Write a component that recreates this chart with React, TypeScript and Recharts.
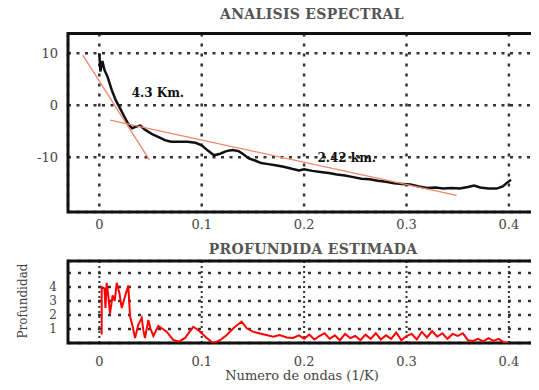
import React from 'react'
import {
  LineChart,
  Line,
  XAxis,
  YAxis,
  CartesianGrid,
  ReferenceArea,
  ReferenceLine,
  ReferenceDot,
} from 'recharts'

// espectro de potencia (ln) vs numero de ondas
const specX = [
  0.0, 0.001, 0.003, 0.005, 0.008, 0.012, 0.016, 0.02, 0.024, 0.028, 0.032, 0.036, 0.04, 0.044,
  0.048, 0.052, 0.058, 0.064, 0.07, 0.078, 0.086, 0.094, 0.1, 0.106, 0.112, 0.118, 0.124, 0.13,
  0.136, 0.14, 0.146, 0.152, 0.158, 0.165, 0.172, 0.18, 0.188, 0.195, 0.2, 0.208, 0.216, 0.224,
  0.232, 0.24, 0.248, 0.256, 0.264, 0.272, 0.28, 0.288, 0.296, 0.304, 0.312, 0.32, 0.328, 0.336,
  0.344, 0.352, 0.36, 0.366, 0.372, 0.38, 0.388, 0.394, 0.398, 0.402,
]
const specY = [
  10.0, 6.5, 8.5, 6.8, 5.5, 3.0, 1.0, -0.5, -2.0, -3.5, -4.4, -4.1, -3.9, -4.6, -5.1, -5.6, -6.1,
  -6.7, -7.0, -7.0, -7.0, -7.2, -7.7, -8.7, -9.6, -9.3, -8.8, -8.6, -8.8, -9.3, -10.2, -10.6,
  -11.1, -11.3, -11.5, -11.8, -12.2, -12.5, -12.3, -12.6, -12.8, -13.0, -13.3, -13.5, -13.8,
  -14.1, -14.2, -14.5, -14.7, -15.0, -15.1, -15.2, -15.6, -15.9, -15.8, -16.0, -15.9, -16.0,
  -15.7, -15.4, -15.8, -16.0, -16.0, -15.6, -14.9, -14.3,
]

// rectas de ajuste
const fitDeepX = [-0.0162, 0.0489]
const fitDeepY = [9.66, -10.5]
const fitShallowX = [0.0105, 0.349]
const fitShallowY = [-2.85, -17.3]

const noteText = ['4.3 Km.', '2.42 km.']
const noteX = [0.0316, 0.213]
const noteY = [2.35, -10.07]

// profundidad estimada
const depthX = [
  0.0023, 0.0023, 0.005, 0.006, 0.0072, 0.009, 0.0104, 0.013, 0.015, 0.017, 0.0195, 0.0219, 0.025,
  0.0283, 0.03, 0.0325, 0.0349, 0.038, 0.0414, 0.043, 0.0446, 0.0479, 0.05, 0.0528, 0.0576, 0.062,
  0.0658, 0.069, 0.0723, 0.078, 0.0837, 0.088, 0.0918, 0.095, 0.0983, 0.1049, 0.1113, 0.118,
  0.1244, 0.1309, 0.135, 0.139, 0.144, 0.15, 0.156, 0.163, 0.17, 0.176, 0.183, 0.189, 0.195, 0.2,
  0.205, 0.21, 0.215, 0.22, 0.225, 0.23, 0.235, 0.24, 0.245, 0.25, 0.255, 0.26, 0.265, 0.27,
  0.275, 0.28, 0.285, 0.29, 0.295, 0.3, 0.305, 0.31, 0.315, 0.32, 0.325, 0.33, 0.335, 0.34,
  0.345, 0.35, 0.355, 0.36, 0.365, 0.37, 0.375, 0.38, 0.385, 0.39, 0.395, 0.4,
]
const depthY = [
  0.6, 4.0, 3.9, 2.5, 4.3, 3.2, 2.1, 3.4, 3.0, 4.3, 3.6, 2.5, 3.3, 4.1, 1.9, 1.2, 0.36, 1.3, 1.8,
  0.9, 0.36, 1.64, 1.0, 0.5, 1.21, 1.0, 0.81, 0.5, 0.21, 0.1, 0.36, 0.8, 1.16, 1.0, 0.81, 0.36,
  0.0, 0.2, 0.57, 1.05, 1.3, 1.52, 1.05, 0.81, 0.7, 0.57, 0.45, 0.57, 0.4, 0.36, 0.55, 0.3, 0.6,
  0.25, 0.5, 0.7, 0.3, 0.55, 0.2, 0.65, 0.35, 0.5, 0.2, 0.6, 0.3, 0.7, 0.25, 0.55, 0.3, 0.75, 0.2,
  0.5, 0.65, 0.25, 0.8, 0.4, 0.85, 0.45, 0.7, 0.3, 0.65, 0.5, 0.7, 0.2, 0.15, 0.3, 0.1, 0.35,
  0.15, 0.3, 0.05, 0.0,
]

const xTicks = [0, 0.1, 0.2, 0.3, 0.4]
const xDomain: [number, number] = [-0.0306, 0.4421]
const topYTicks = [-10, 0, 10]
const topYDomain: [number, number] = [-20.5, 13.8]
const bottomYTicks = [1, 2, 3, 4, 5]
const bottomYDomain: [number, number] = [0, 5.86]

const serif = 'DejaVu Serif'
const tickStyle = { fill: '#444', fontSize: 13, fontFamily: serif }

const specData = specX.map((x, i) => ({ x, y: specY[i] }))
const depthData = depthX.map((x, i) => ({ x, y: depthY[i] }))

function Note({ cx, cy, text }: any) {
  return (
    <text x={cx} y={cy} dy="0.35em" fontFamily={serif} fontWeight="bold" fontSize={12} fill="#111">
      {text}
    </text>
  )
}

const titleStyle: React.CSSProperties = {
  position: 'absolute', width: 240, textAlign: 'center', fontFamily: serif, fontSize: 14,
  fontWeight: 'bold', color: '#555', letterSpacing: 0.3, whiteSpace: 'nowrap',
}

export default function App() {
  return (
    <div style={{ position: 'relative', width: 539, height: 390, margin: -8, overflow: 'hidden', background: '#fff' }}>
      <div style={{ ...titleStyle, left: 192, top: 6 }}>ANALISIS ESPECTRAL</div>
      <div style={{ position: 'absolute', left: 0, top: 0 }}>
        <LineChart width={560} height={240} data={specData} margin={{ top: 33.5, right: 8, bottom: 8, left: 8 }}>
          <CartesianGrid horizontal={false} stroke="#333" strokeWidth={2.5} strokeDasharray="3 7" />
          <CartesianGrid vertical={false} stroke="#333" strokeWidth={2.5} strokeDasharray="3 5.5" />
          <XAxis
            dataKey="x" type="number" domain={xDomain} ticks={xTicks} allowDataOverflow interval={0}
            axisLine={false} tickLine={false} tick={tickStyle} height={20}
          />
          <YAxis
            type="number" domain={topYDomain} ticks={topYTicks} allowDataOverflow interval={0}
            axisLine={false} tickLine={false} tick={tickStyle} tickMargin={4} width={60}
          />
          <ReferenceArea
            x1={xDomain[0]} x2={xDomain[1]} y1={topYDomain[0]} y2={topYDomain[1]}
            fill="none" fillOpacity={0} stroke="#111" strokeWidth={3} ifOverflow="visible"
          />
          <Line dataKey="y" stroke="#111" strokeWidth={2.5} dot={false} isAnimationActive={false} />
          <ReferenceLine
            segment={[{ x: fitDeepX[0], y: fitDeepY[0] }, { x: fitDeepX[1], y: fitDeepY[1] }]}
            stroke="#f2876a" strokeWidth={1.3} ifOverflow="visible"
          />
          <ReferenceLine
            segment={[{ x: fitShallowX[0], y: fitShallowY[0] }, { x: fitShallowX[1], y: fitShallowY[1] }]}
            stroke="#f2876a" strokeWidth={1.3} ifOverflow="visible"
          />
          {noteText.map((t, i) => (
            <ReferenceDot key={t} x={noteX[i]} y={noteY[i]} r={0} ifOverflow="visible" shape={(p: any) => <Note {...p} text={t} />} />
          ))}
        </LineChart>
      </div>

      <div style={{ ...titleStyle, left: 193, top: 241 }}>PROFUNDIDA ESTIMADA</div>
      <div
        style={{
          position: 'absolute', left: -27, top: 294, width: 100, textAlign: 'center',
          transform: 'rotate(-90deg)', fontFamily: serif, fontSize: 12, color: '#444', whiteSpace: 'nowrap',
        }}
      >
        Profundidad
      </div>
      <div style={{ position: 'absolute', left: 0, top: 240 }}>
        <LineChart width={560} height={150} data={depthData} margin={{ top: 21, right: 8, bottom: 0, left: 8 }}>
          <CartesianGrid horizontal={false} stroke="#333" strokeWidth={2} strokeDasharray="2 3" />
          <CartesianGrid vertical={false} stroke="#333" strokeWidth={2.5} strokeDasharray="3 7" />
          <XAxis
            dataKey="x" type="number" domain={xDomain} ticks={xTicks} allowDataOverflow interval={0}
            axisLine={false} tickLine={false} tick={tickStyle} tickMargin={8} height={47}
          />
          <YAxis
            type="number" domain={bottomYDomain} ticks={bottomYTicks} allowDataOverflow interval={0}
            tickFormatter={(v: number) => (v === 5 ? '' : String(v))}
            axisLine={false} tickLine={false} tick={{ ...tickStyle, fontSize: 12 }} tickMargin={5} width={60}
          />
          <ReferenceArea
            x1={xDomain[0]} x2={xDomain[1]} y1={bottomYDomain[0]} y2={bottomYDomain[1]}
            fill="none" fillOpacity={0} stroke="#111" strokeWidth={3} ifOverflow="visible"
          />
          <Line dataKey="y" stroke="#ff0000" strokeWidth={2} dot={false} isAnimationActive={false} />
        </LineChart>
      </div>
      <div
        style={{
          position: 'absolute', left: 202, width: 200, top: 368, textAlign: 'center',
          fontFamily: serif, fontSize: 13, color: '#444', whiteSpace: 'nowrap',
        }}
      >
        Numero de ondas (1/K)
      </div>
    </div>
  )
}
